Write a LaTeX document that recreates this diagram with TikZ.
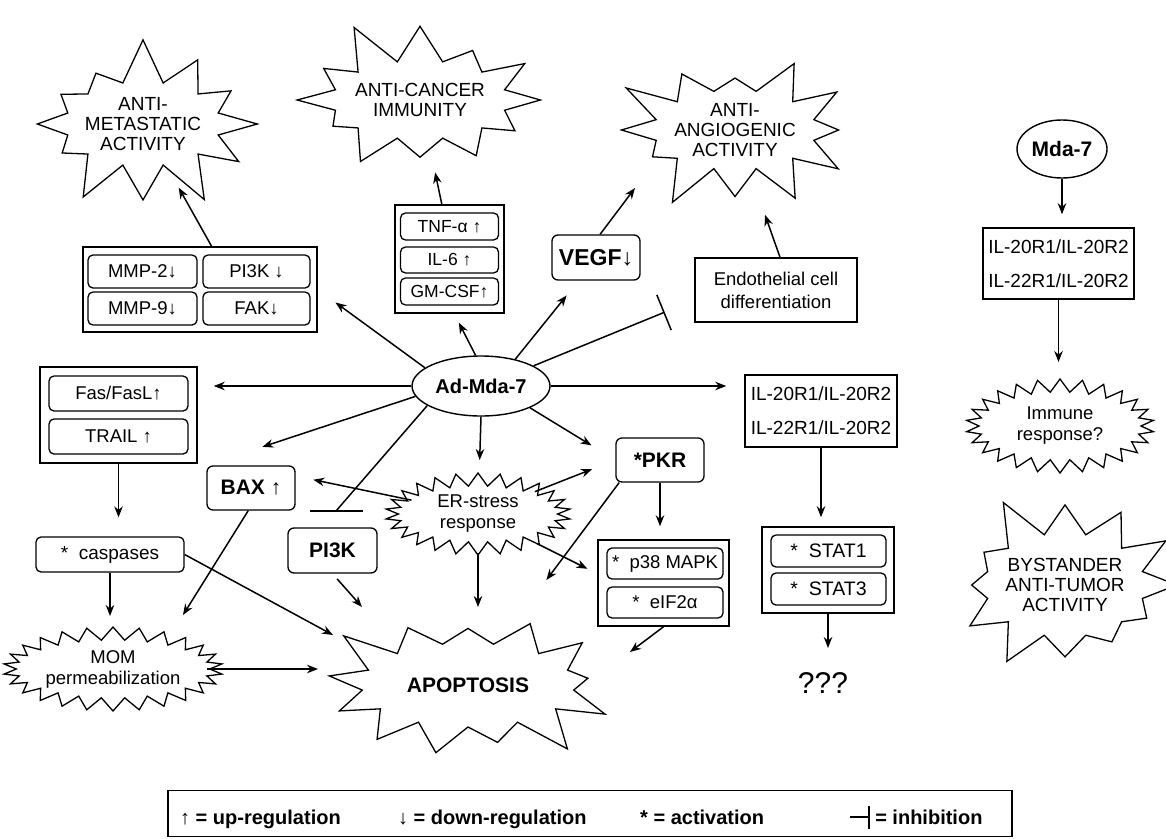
\documentclass[tikz,border=0pt]{standalone}
\usepackage{fontspec}
\setmainfont{Liberation Sans}
\usetikzlibrary{arrows.meta,shapes.geometric,shapes.symbols}

\newcommand{\setsize}[2]{\fontsize{#1}{#2}\selectfont}
\newcommand{\inhsym}{\rule[0.32em]{0.9em}{1.3pt}\rule[-0.25em]{1.5pt}{1.15em}}

\begin{document}
\begin{tikzpicture}[x=1pt, y=-1pt, >={Stealth[length=11pt,width=8.5pt]},
    every edge/.style={draw, line width=1.5pt},
    burst/.style={starburst, draw, line width=1.3pt, align=center, inner sep=0pt},
    bigburst/.style={burst, starburst points=12, starburst point height=46pt,
                     inner xsep=-3pt, inner ysep=-2pt, font=\setsize{19}{20}},
    smallburst/.style={burst, starburst points=26, starburst point height=13pt,
                       random starburst=0, inner sep=1pt, font=\setsize{18.5}{21}},
    group/.style={draw, line width=1.5pt, inner sep=0pt},
    item/.style={draw, rounded corners=5pt, line width=1.3pt, inner sep=0pt,
                 font=\setsize{18.5}{20}},
    gene/.style={draw, rounded corners=6pt, line width=1.3pt, inner sep=0pt,
                 font=\bfseries\setsize{21}{23}},
    recep/.style={draw, line width=1.5pt, inner sep=0pt, align=center,
                  font=\setsize{19}{34}},
    legend/.style={anchor=base west, inner sep=0pt, font=\bfseries\setsize{20}{22}}]

\useasboundingbox (0,0) rectangle (1166,838);

% outcomes
\node[bigburst, minimum width=207pt, minimum height=177pt, random starburst=7] (metast) at (143,124) {ANTI-\\METASTATIC\\ACTIVITY};
\node[bigburst, minimum width=242pt, minimum height=171pt, random starburst=11] (cancer) at (420,100) {ANTI-CANCER\\IMMUNITY};
\node[bigburst, minimum width=212pt, minimum height=172pt, random starburst=23] (angio) at (735,130) {ANTI-\\ANGIOGENIC\\ACTIVITY};
\node[bigburst, minimum width=214pt, minimum height=196pt, random starburst=5] (bystander) at (1065,585) {BYSTANDER\\ANTI-TUMOR\\ACTIVITY};
\node[bigburst, starburst points=13, minimum width=305pt, minimum height=176pt, random starburst=3,
      font=\bfseries\setsize{21}{23}] (apop) at (468,685) {APOPTOSIS};

\node[smallburst, minimum width=199pt, minimum height=84pt] (mom) at (113,669) {MOM\\permeabilization};
\node[smallburst, minimum width=185pt, minimum height=82pt] (er) at (478,514) {ER-stress\\response};
\node[smallburst, minimum width=188pt, minimum height=94pt] (immune) at (1060,426) {Immune\\response?};

% Ad-Mda-7 and its targets
\node[ellipse, draw, line width=1.4pt, inner sep=1pt, minimum width=138pt, minimum height=60pt,
      font=\bfseries\setsize{20}{22}] (admda) at (481,386) {Ad-Mda-7};

\node[group, minimum width=234pt, minimum height=85pt] (mmpbox) at (200,289.5) {};
\node[item, minimum width=109pt, minimum height=33pt] (mmp2) at (142.5,271.5) {MMP-2↓};
\node[item, minimum width=107pt, minimum height=33pt] (pi3kdn) at (256.5,271.5) {PI3K ↓};
\node[item, minimum width=109pt, minimum height=33pt] (mmp9) at (142.5,308.5) {MMP-9↓};
\node[item, minimum width=107pt, minimum height=33pt] (fak) at (256.5,308.5) {FAK↓};

\node[group, minimum width=109pt, minimum height=108pt] (tnfbox) at (449.5,259) {};
\node[item, minimum width=98pt, minimum height=27pt, font=\setsize{17.5}{18}] (tnf) at (449.5,226.5) {TNF-α ↑};
\node[item, minimum width=98pt, minimum height=26pt, font=\setsize{17.5}{18}] (il6) at (449.5,260) {IL-6 ↑};
\node[item, minimum width=98pt, minimum height=27pt, font=\setsize{17.5}{18}] (gmcsf) at (449.5,291.5) {GM-CSF↑};

\node[gene, minimum width=88pt, minimum height=45pt, font=\bfseries\setsize{23}{25}] (vegf) at (596,257.5) {VEGF↓};
\node[draw, line width=1.4pt, inner sep=0pt, minimum width=162pt, minimum height=64pt, align=center,
      font=\setsize{18.5}{23}] (endo) at (776,290) {Endothelial cell\\differentiation};

\node[group, minimum width=157pt, minimum height=96pt] (fasbox) at (118.5,415) {};
\node[item, minimum width=139pt, minimum height=35pt] (fas) at (118.5,393.5) {Fas/FasL↑};
\node[item, minimum width=139pt, minimum height=35pt] (trail) at (118.5,436.5) {TRAIL ↑};
\node[item, minimum width=148pt, minimum height=35pt, font=\setsize{19}{20}] (casp) at (110,554.5) {*\ \ caspases};

\node[gene, minimum width=88pt, minimum height=44pt] (bax) at (251,488) {BAX ↑};
\node[gene, minimum width=89pt, minimum height=45pt] (pi3k) at (332.5,550.5) {PI3K};
\node[gene, minimum width=88pt, minimum height=44pt] (pkr) at (660,460) {*PKR};

\node[group, minimum width=131pt, minimum height=86pt] (p38box) at (663.5,583) {};
\node[item, minimum width=116pt, minimum height=31pt] (p38) at (665,563.5) {*\ \ p38 MAPK};
\node[item, minimum width=116pt, minimum height=31pt] (eif) at (665,602.5) {*\ \ eIF2α};

\node[recep, minimum width=152pt, minimum height=72pt] (ilbox) at (821,411) {IL-20R1/IL-20R2\\IL-22R1/IL-20R2};
\node[group, minimum width=132pt, minimum height=86pt] (statbox) at (828,570) {};
\node[item, minimum width=115pt, minimum height=32pt, font=\setsize{19.5}{20}] (stat1) at (828.5,551) {*\ \ STAT1};
\node[item, minimum width=115pt, minimum height=32pt, font=\setsize{19.5}{20}] (stat3) at (828.5,589) {*\ \ STAT3};
\node[inner sep=0pt, font=\setsize{30}{32}] (qqq) at (823,683) {???};

% Mda-7 protein
\node[ellipse, draw, line width=1.4pt, inner sep=1pt, minimum width=90pt, minimum height=58pt,
      font=\bfseries\setsize{21}{23}] (mda) at (1062,149) {Mda-7};
\node[recep, minimum width=151pt, minimum height=71pt] (ilbox2) at (1058.5,263.5) {IL-20R1/IL-20R2\\IL-22R1/IL-20R2};

\coordinate (pi3kbar) at (336,511);

\path[->]
(mmpbox.75) edge[shorten >=73pt] (metast.center)
(tnfbox.98) edge[shorten >=74pt] (cancer.center)
(vegf.80) edge ([shift={(-100,58)}]angio.center)
(endo.83) edge[shorten >=90pt] (angio.center)
(admda.162) edge[shorten >=22pt] (mmpbox.east)
(admda.100) edge[shorten >=10pt] (tnfbox.-85)
(admda.38) edge[shorten >=19pt] (vegf.-127)
(admda.21) edge[-{Bar[width=38pt]}, shorten >=32pt] (endo.-173)
(admda.west) edge[shorten >=16pt] (admda.west -| fasbox.east)
(admda.east) edge[shorten >=18pt] (admda.east -| ilbox.west)
(admda.-171) edge[shorten >=59pt] (bax.north west)
(admda.-160) edge[-] (pi3kbar)
(admda.south) edge[shorten >=54pt] (er.center)
(admda.-24) edge[shorten >=28pt] (pkr.west);

\path[->]
(fasbox.south) edge[shorten >=19pt] (fasbox.south |- casp.north)
(casp.south) edge[shorten >=53pt] (casp.south |- mom.center)
(casp.east) edge ([shift={(-135,-50)}]apop.center)
(mom.center) edge[shorten <=94pt, shorten >=150pt] (mom.center -| apop.center)
(bax.-97) edge ([shift={(70,-54)}]mom.center)
(er.center) edge[shorten <=68pt, shorten >=18pt] (bax.15)
(er.center) edge[shorten <=61pt, shorten >=25pt] (pkr.west)
(er.center) edge[shorten <=66pt, shorten >=11pt] (p38box.172)
(er.center) edge[shorten <=39pt, shorten >=78pt] (er.center |- apop.center)
(pi3k.south) edge[shorten <=7pt] ([shift={(-106,-78)}]apop.center)
(pkr.-151) edge[shorten >=131pt] (apop.center)
(pkr.south) edge[shorten >=13pt] (pkr.south |- p38box.north)
(p38box.south) edge ([shift={(162,-33)}]apop.center);

\path[->]
(ilbox.south) edge[shorten >=9pt] (ilbox.south |- statbox.north)
(statbox.south) edge[shorten >=35pt] (statbox.south |- qqq.center)
(mda.south) edge[shorten >=13pt] (mda.south |- ilbox2.north)
(ilbox2.south) edge[shorten >=64pt] (ilbox2.south |- immune.center);

\draw[line width=1.5pt] ([xshift=-26pt]pi3kbar) -- ([xshift=27pt]pi3kbar);

% legend
\node[group, minimum width=844pt, minimum height=46pt] (legbox) at (590,813.5) {};
\node[legend] (lup) at (180,824) {↑ = up-regulation};
\node[legend] (ldown) at (398,824) {↓ = down-regulation};
\node[legend] (lact) at (640,824) {* = activation};
\node[legend] (linh) at (850,824) {\inhsym\ = inhibition};

\end{tikzpicture}
\end{document}
